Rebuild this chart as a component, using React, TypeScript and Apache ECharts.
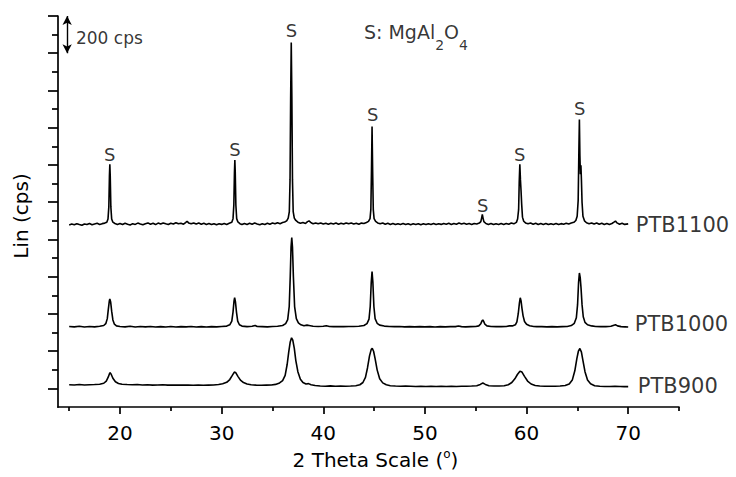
import React, { useEffect, useRef } from "react";
import * as echarts from "echarts";

// 2θ (deg) vs Lin (cps, with vertical offsets as plotted)
const ptb1100: [number, number][] = [
  [15, 878], [15.25, 883], [15.5, 879], [15.75, 885], [16, 880], [16.25, 876], [16.5, 883], [16.75, 880], [17, 886], [17.25, 879], [17.5, 883], [17.75, 887], [18, 881], [18.25, 885], [18.5, 888],
  [18.7, 893], [18.82, 910], [18.9, 975], [18.96, 1140], [19.0, 1204], [19.04, 1140], [19.1, 975], [19.18, 910], [19.3, 893],
  [19.5, 886], [19.75, 881], [20, 886], [20.25, 880], [20.5, 887], [20.75, 882], [21, 878], [21.25, 885], [21.5, 881], [21.75, 888], [22, 883], [22.25, 879], [22.5, 885], [22.75, 889], [23, 882], [23.25, 887], [23.5, 880], [23.75, 888], [24, 883], [24.25, 889], [24.5, 884], [24.75, 880], [25, 887], [25.25, 883], [25.5, 890], [25.75, 884], [26, 887], [26.25, 882], [26.45, 891], [26.6, 898], [26.75, 889], [27, 884], [27.25, 889], [27.5, 883], [27.75, 888], [28, 882], [28.25, 887], [28.5, 881], [28.75, 886], [29, 880], [29.25, 885], [29.5, 879], [29.75, 884], [30, 881], [30.25, 886], [30.5, 881], [30.75, 887],
  [31.0, 892], [31.12, 912], [31.2, 985], [31.26, 1160], [31.3, 1226], [31.34, 1160], [31.4, 985], [31.48, 912], [31.6, 894],
  [31.8, 885], [32, 880], [32.25, 886], [32.5, 881], [32.75, 887], [33, 882], [33.25, 888], [33.5, 883], [33.75, 879], [34, 885], [34.25, 881], [34.5, 887], [34.75, 882], [35, 888], [35.25, 884], [35.5, 890], [35.75, 885], [36, 891], [36.2, 894],
  [36.4, 900], [36.55, 915], [36.66, 950], [36.73, 1120], [36.79, 1560], [36.85, 1858], [36.91, 1560], [36.97, 1120], [37.04, 950], [37.15, 915], [37.3, 902],
  [37.5, 893], [37.75, 887], [38, 891], [38.25, 886], [38.45, 896], [38.6, 900], [38.8, 890], [39, 885], [39.25, 889], [39.5, 884], [39.75, 888], [40, 883], [40.25, 887], [40.5, 882], [40.75, 887], [41, 883], [41.25, 888], [41.5, 882], [41.75, 887], [42, 883], [42.25, 889], [42.5, 884], [42.75, 888], [43, 883], [43.25, 887], [43.5, 882], [43.75, 888], [44, 886], [44.25, 891], [44.45, 897],
  [44.6, 912], [44.68, 960], [44.74, 1160], [44.8, 1407], [44.86, 1160], [44.92, 960], [45.0, 912], [45.15, 897],
  [45.35, 889], [45.6, 884], [45.85, 888], [46.1, 882], [46.35, 887], [46.6, 881], [46.85, 886], [47.1, 880], [47.35, 885], [47.6, 881], [47.85, 886], [48.1, 880], [48.35, 885], [48.6, 879], [48.85, 884], [49.1, 880], [49.35, 885], [49.6, 879], [49.85, 884], [50.1, 880], [50.35, 885], [50.6, 881], [50.85, 886], [51.1, 880], [51.35, 884], [51.6, 881], [51.85, 886], [52.1, 882], [52.35, 887], [52.6, 881], [52.85, 886], [53.1, 882], [53.35, 888], [53.6, 883], [53.85, 887], [54.1, 882], [54.35, 886], [54.6, 881], [54.85, 886], [55.1, 883], [55.35, 888],
  [55.5, 896], [55.58, 915], [55.65, 935], [55.72, 915], [55.8, 896],
  [56, 886], [56.25, 881], [56.5, 886], [56.75, 880], [57, 885], [57.25, 881], [57.5, 886], [57.75, 881], [58, 886], [58.25, 882], [58.5, 888], [58.75, 884], [59, 892],
  [59.12, 910], [59.22, 960], [59.28, 1110], [59.34, 1204], [59.4, 1120], [59.46, 1060], [59.52, 990], [59.6, 920], [59.72, 898],
  [59.9, 889], [60.15, 884], [60.4, 888], [60.65, 882], [60.9, 887], [61.15, 881], [61.4, 886], [61.65, 881], [61.9, 886], [62.15, 880], [62.4, 885], [62.65, 881], [62.9, 886], [63.15, 880], [63.4, 885], [63.65, 882], [63.9, 887], [64.15, 883], [64.4, 888], [64.65, 892], [64.85, 902],
  [64.98, 925], [65.08, 1010], [65.15, 1280], [65.2, 1444], [65.25, 1250], [65.3, 1150], [65.35, 1199], [65.4, 1120], [65.46, 1000], [65.55, 925], [65.7, 900],
  [65.9, 890], [66.15, 885], [66.4, 889], [66.65, 883], [66.9, 888], [67.15, 882], [67.4, 887], [67.65, 881], [67.9, 886], [68.15, 881], [68.4, 886], [68.6, 893], [68.75, 899], [68.9, 889], [69.15, 882], [69.4, 887], [69.65, 881], [70, 884],
];

const ptb1000: [number, number][] = [
  [15, 333], [15.5, 331], [16, 334], [16.5, 330], [17, 333], [17.5, 331], [18, 334], [18.4, 338], [18.6, 348], [18.75, 375], [18.85, 425], [18.95, 470], [19.0, 481], [19.08, 465], [19.18, 415], [19.3, 368], [19.45, 345], [19.65, 336],
  [20, 333], [20.5, 331], [21, 334], [21.5, 330], [22, 333], [22.5, 331], [23, 333], [23.5, 330], [24, 332], [24.5, 330], [25, 333], [25.5, 330], [26, 332], [26.5, 331], [27, 333], [27.5, 330], [28, 332], [28.5, 330], [29, 332], [29.5, 331], [30, 333], [30.5, 335],
  [30.8, 342], [31.0, 362], [31.12, 410], [31.22, 470], [31.28, 488], [31.36, 465], [31.46, 410], [31.58, 362], [31.75, 342],
  [32, 335], [32.5, 332], [33, 334], [33.3, 338], [33.5, 333], [34, 332], [34.5, 331], [35, 333], [35.5, 334], [36, 338],
  [36.3, 348], [36.5, 370], [36.65, 440], [36.75, 600], [36.83, 760], [36.9, 811], [36.97, 760], [37.06, 600], [37.18, 440], [37.35, 375], [37.55, 352], [37.8, 342],
  [38.1, 337], [38.4, 340], [38.6, 338], [39, 334], [39.5, 333], [40, 334], [40.3, 337], [40.6, 333], [41, 332], [41.5, 333], [42, 332], [42.5, 333], [43, 333], [43.5, 334], [44, 338],
  [44.3, 348], [44.5, 372], [44.62, 440], [44.72, 570], [44.8, 628], [44.88, 570], [44.98, 440], [45.1, 375], [45.3, 350], [45.55, 340],
  [46, 335], [46.5, 333], [47, 332], [47.5, 333], [48, 331], [48.5, 332], [49, 331], [49.5, 332], [50, 331], [50.5, 332], [51, 330], [51.5, 332], [52, 331], [52.5, 332], [53, 332], [53.3, 335], [53.6, 332], [54, 331], [54.5, 332], [55, 333],
  [55.3, 336], [55.5, 348], [55.62, 363], [55.7, 368], [55.78, 360], [55.9, 345], [56.1, 336],
  [56.5, 333], [57, 332], [57.5, 332], [58, 333], [58.3, 336], [58.6, 336],
  [58.9, 342], [59.05, 358], [59.18, 400], [59.3, 460], [59.38, 487], [59.46, 470], [59.55, 430], [59.66, 390], [59.8, 360], [60, 345], [60.3, 337],
  [60.7, 333], [61, 332], [61.5, 332], [62, 331], [62.5, 332], [63, 331], [63.5, 332], [64, 333],
  [64.4, 338], [64.7, 350], [64.9, 380], [65.02, 450], [65.12, 570], [65.2, 620], [65.28, 595], [65.36, 540], [65.46, 450], [65.58, 385], [65.75, 355], [66, 342],
  [66.4, 336], [66.8, 333], [67.3, 332], [67.8, 332], [68.3, 334], [68.6, 340], [68.75, 342], [68.95, 336], [69.3, 332], [69.7, 331], [70, 330],
];

const ptb900: [number, number][] = [
  [15, 20], [15.5, 19], [16, 21], [16.5, 19], [17, 20], [17.5, 21], [18, 23],
  [18.4, 28], [18.65, 40], [18.85, 62], [19.0, 85], [19.12, 78], [19.3, 55], [19.55, 36], [19.85, 27],
  [20.2, 23], [20.7, 21], [21.2, 20], [21.7, 21], [22.2, 19], [22.7, 20], [23.2, 18], [23.7, 19], [24.2, 20], [24.7, 18], [25.2, 19], [25.7, 18], [26.2, 19], [26.7, 18], [27.2, 17], [27.7, 18], [28.2, 17], [28.7, 18], [29.2, 19], [29.7, 21],
  [30.1, 25], [30.5, 33], [30.8, 48], [31.05, 70], [31.25, 88], [31.4, 84], [31.6, 65], [31.85, 45], [32.15, 32], [32.5, 24],
  [32.9, 20], [33.4, 18], [33.9, 17], [34.4, 18], [34.9, 19],
  [35.3, 22], [35.7, 30], [36.0, 42], [36.25, 70], [36.45, 130], [36.6, 195], [36.75, 250], [36.88, 272], [37.0, 260], [37.15, 215], [37.3, 150], [37.5, 90], [37.75, 50], [38.0, 32], [38.3, 24],
  [38.55, 26], [38.8, 20], [39.2, 16], [39.7, 13], [40.2, 12], [40.7, 14], [41.2, 12], [41.7, 13], [42.2, 12], [42.7, 13],
  [43.2, 15], [43.6, 20], [43.9, 32], [44.15, 60], [44.35, 110], [44.55, 175], [44.72, 210], [44.82, 215], [44.95, 200], [45.1, 160], [45.3, 100], [45.55, 52], [45.85, 30], [46.2, 20],
  [46.6, 15], [47.1, 13], [47.6, 12], [48.1, 13], [48.6, 12], [49.1, 11], [49.6, 12], [50.1, 11], [50.6, 12], [51.1, 11], [51.6, 12], [52.1, 11], [52.6, 12], [53.1, 11], [53.6, 12], [54.1, 12], [54.6, 13],
  [55.1, 15], [55.45, 22], [55.7, 29], [55.95, 22], [56.3, 15],
  [56.8, 13], [57.3, 13], [57.8, 15],
  [58.2, 20], [58.55, 32], [58.85, 52], [59.1, 75], [59.35, 93], [59.55, 88], [59.8, 65], [60.1, 40], [60.45, 24], [60.85, 16],
  [61.3, 13], [61.8, 12], [62.3, 12], [62.8, 12], [63.3, 13],
  [63.8, 16], [64.2, 24], [64.5, 45], [64.75, 95], [64.95, 160], [65.1, 200], [65.25, 215], [65.4, 195], [65.55, 150], [65.75, 90], [66.0, 45], [66.3, 25], [66.7, 15],
  [67.2, 12], [67.7, 11], [68.2, 11], [68.7, 12], [69.2, 11], [69.6, 10], [70, 10],
];

const xLabelTicks = [20, 30, 40, 50, 60, 70];
const xMinorTicks = [15, 25, 35, 45, 55, 65, 75];
const yMajorTicks = [0, 200, 400, 600, 800, 1000, 1200, 1400, 1600, 1800, 2000];
const yMinorTicks = [100, 300, 500, 700, 900, 1100, 1300, 1500, 1700, 1900];

// "S" peak markers: [2θ, cps]
const peakMarks: [number, number][] = [
  [18.98, 1254], [31.3, 1285], [36.88, 1921], [44.86, 1471], [55.7, 984], [59.32, 1254], [65.22, 1503],
];
const sampleNames = ["PTB1100", "PTB1000", "PTB900"];
const sampleLabelPos: [number, number][] = [[70.75, 879], [70.65, 345], [70.95, 13]];
const scaleBar: [number, number] = [1800, 2000];
const scaleBarX = 14.8;
const scaleTextPos: [number, number] = [15.67, 1882];
const legendTextPos: [number, number] = [44.0, 1915];

const FONT = "DejaVu Sans, Verdana, sans-serif";
const BLACK = "#000";

export default function App() {
  const ref = useRef<HTMLDivElement>(null);
  useEffect(() => {
    const chart = echarts.init(ref.current!, null, { renderer: "svg" });
    const line = { color: BLACK, width: 1.7 };
    const baseX = { type: "value", min: 13.9, max: 75, position: "bottom", splitLine: { show: false } };
    const baseY = { type: "value", min: -100, max: 2000, position: "left", splitLine: { show: false } };

    const textItem = (pos: [number, number], text: string, fontSize: number, align: string, extra: any = {}) => ({
      value: pos,
      label: {
        show: true,
        position: "inside",
        formatter: text,
        align,
        verticalAlign: "middle",
        color: BLACK,
        fontSize,
        fontFamily: FONT,
        ...extra,
      },
    });

    const annotations = [
      ...peakMarks.map((p) => textItem(p, "S", 18, "center")),
      ...sampleNames.map((n, i) => textItem(sampleLabelPos[i], n, 21, "left")),
      textItem(scaleTextPos, "200 cps", 17, "left"),
      textItem(legendTextPos, "S: MgAl{b|2}O{b|4}", 19, "left", {
        rich: { b: { fontSize: 14, fontFamily: FONT, color: BLACK, padding: [26, 0, 0, 0] } },
      }),
    ];

    chart.setOption({
      animation: false,
      backgroundColor: "#fff",
      grid: { left: 58, right: 57, top: 16, bottom: 58 },
      xAxis: [
        {
          ...baseX,
          axisLine: { show: true, onZero: false, lineStyle: line },
          axisTick: { show: true, customValues: xMinorTicks, length: 4, lineStyle: line },
          axisLabel: { show: true, customValues: xLabelTicks, color: BLACK, fontSize: 20, fontFamily: FONT, margin: 16 },
          name: "2 Theta Scale ({s|o})",
          nameLocation: "middle",
          nameGap: 39,
          nameTextStyle: {
            color: BLACK,
            fontSize: 20,
            fontFamily: FONT,
            lineHeight: 24,
            padding: [0, 0, 0, 14],
            rich: { s: { fontSize: 12, fontFamily: FONT, color: BLACK, verticalAlign: "top", lineHeight: 12 } },
          },
        },
        {
          ...baseX,
          axisLine: { show: false, onZero: false },
          axisTick: { show: true, customValues: xLabelTicks, length: 7, lineStyle: line },
          axisLabel: { show: false },
        },
      ],
      yAxis: [
        {
          ...baseY,
          axisLine: { show: true, onZero: false, lineStyle: line },
          axisTick: { show: true, customValues: yMinorTicks, length: 6, lineStyle: line },
          axisLabel: { show: false },
          name: "Lin (cps)",
          nameLocation: "middle",
          nameRotate: 90,
          nameGap: 27,
          nameTextStyle: { color: BLACK, fontSize: 20, fontFamily: FONT, padding: [0, 9, 0, 0] },
        },
        {
          ...baseY,
          axisLine: { show: false, onZero: false },
          axisTick: { show: true, customValues: yMajorTicks, length: 10, lineStyle: line },
          axisLabel: { show: false },
        },
      ],
      series: [
        ...[ptb1100, ptb1000, ptb900].map((d, i) => ({
          name: sampleNames[i],
          type: "line",
          data: d,
          xAxisIndex: 0,
          yAxisIndex: 0,
          symbol: "none",
          showSymbol: false,
          silent: true,
          lineStyle: { color: BLACK, width: 1.6 },
        })),
        {
          type: "scatter",
          xAxisIndex: 0,
          yAxisIndex: 0,
          symbolSize: 0,
          silent: true,
          itemStyle: { color: "rgba(0,0,0,0)" },
          data: annotations,
          markLine: {
            silent: true,
            symbol: ["arrow", "arrow"],
            symbolSize: [7, 9],
            label: { show: false },
            lineStyle: { color: BLACK, width: 1.4, type: "solid" },
            data: [[{ coord: [scaleBarX, scaleBar[1]] }, { coord: [scaleBarX, scaleBar[0]] }]],
          },
        },
      ],
    });
    return () => chart.dispose();
  }, []);
  return <div ref={ref} style={{ position: "absolute", left: 0, top: 0, width: 736, height: 477 }} />;
}
